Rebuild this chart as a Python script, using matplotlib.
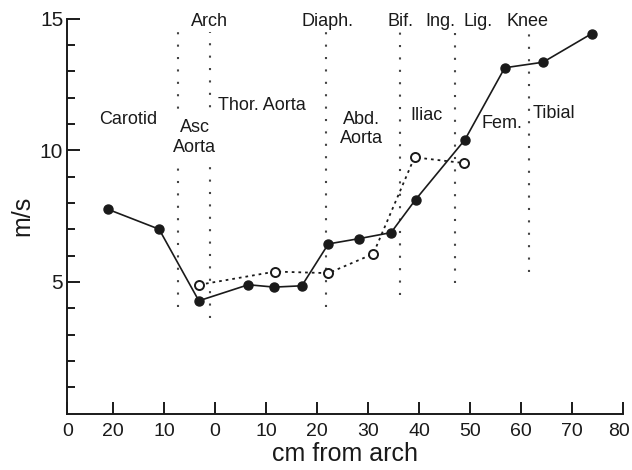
import numpy as np
import matplotlib.pyplot as plt
import matplotlib.transforms as mtransforms

plt.rcParams['font.family'] = ['Liberation Sans', 'DejaVu Sans']

# pulse wave velocity along the arterial tree, distance in cm from the arch
# (carotid side is negative)
dist_solid = [-21.1, -11.0, -3.2, 6.5, 11.6, 17.0, 22.2, 28.2, 34.5, 39.3, 49.0, 56.8, 64.3, 73.9]
vel_solid = [7.76, 7.00, 4.28, 4.89, 4.80, 4.85, 6.44, 6.64, 6.87, 8.12, 10.40, 13.13, 13.34, 14.43]

dist_open = [-3.1, 11.8, 22.2, 31.0, 39.1, 48.8]
vel_open = [4.89, 5.39, 5.33, 6.06, 9.73, 9.51]

# anatomical landmarks (dotted verticals)
landmark_x = [-7.3, -1.1, 21.7, 36.3, 47.0, 61.5]
landmark_bottom = [4.05, 3.63, 4.06, 4.5, 4.96, 5.38]
landmark_top = 14.5

xticks = [-29, -20, -10, 0, 10, 20, 30, 40, 50, 60, 70, 80]
xticklabels = ['0', '20', '10', '0', '10', '20', '30', '40', '50', '60', '70', '80']

ink = '#1a1a1a'

fig = plt.figure(figsize=(6.32, 4.70), dpi=100)
ax = fig.add_axes([0.1065, 0.1202, 0.8793, 0.8404])

for x, yb in zip(landmark_x, landmark_bottom):
    ax.plot([x, x], [yb, landmark_top], color='#444444', lw=1.5,
            linestyle=(0, (1, 4.95)), zorder=1)

ax.plot(dist_open, vel_open, color=ink, lw=1.3, linestyle=(0, (1.5, 2.2)),
        marker='o', ms=6.5, mfc='white', mec=ink, mew=1.4, zorder=3)
ax.plot(dist_solid, vel_solid, color=ink, lw=1.2, marker='o', ms=6.5,
        mfc=ink, mec=ink, zorder=4)

# landmark names along the top
fs = 13
for txt, x in [('Arch', -1.1), ('Diaph.', 22.1), ('Bif.', 36.4), ('Ing.', 44.1),
               ('Lig.', 51.6), ('Knee', 61.2)]:
    ax.text(x, 14.71, txt, ha='center', va='baseline', fontsize=fs, color=ink)

# segment names
ax.text(-17.0, 11.01, 'Carotid', ha='center', va='baseline', fontsize=fs, color=ink)
ax.text(-4.0, 9.92, 'Asc\nAorta', ha='center', va='baseline', fontsize=fs, color=ink,
        linespacing=1.25, zorder=2,
        bbox=dict(boxstyle='square,pad=0.25', fc='white', ec='none'))
ax.text(0.5, 11.51, 'Thor. Aorta', ha='left', va='baseline', fontsize=fs, color=ink)
ax.text(28.7, 10.27, 'Abd.\nAorta', ha='center', va='baseline', fontsize=fs, color=ink,
        linespacing=1.15)
ax.text(41.4, 11.13, 'Iliac', ha='center', va='baseline', fontsize=fs, color=ink)
ax.text(56.2, 10.84, 'Fem.', ha='center', va='baseline', fontsize=fs, color=ink)
ax.text(66.4, 11.22, 'Tibial', ha='center', va='baseline', fontsize=fs, color=ink)

ax.set_xlim(-29, 80)
ax.set_ylim(0, 15)
ax.spines['top'].set_visible(False)
ax.spines['right'].set_visible(False)
for s in ['left', 'bottom']:
    ax.spines[s].set_linewidth(1.4)
    ax.spines[s].set_color(ink)

ax.set_xticks(xticks)
ax.set_xticklabels(xticklabels)
ax.set_yticks([5, 10, 15])
ax.set_yticks(np.arange(1, 15), minor=True)
ax.tick_params(axis='x', direction='in', length=9, width=1.4, color=ink,
               labelsize=14, pad=7, labelcolor=ink)
ax.tick_params(axis='y', which='major', direction='in', length=9.5, width=1.4,
               color=ink, labelsize=15, pad=3, labelcolor=ink)
ax.tick_params(axis='y', which='minor', direction='in', length=6, width=1.4, color=ink)

# nudge the last label so it stays inside the figure
last = ax.get_xticklabels()[-1]
last.set_transform(last.get_transform() +
                   mtransforms.ScaledTranslation(-3 / 72, 0, fig.dpi_scale_trans))

ax.set_xlabel('cm from arch', fontsize=18, color=ink, labelpad=1)
ax.set_ylabel('m/s', fontsize=18, color=ink, labelpad=4)

plt.savefig('out.png', dpi=100)
